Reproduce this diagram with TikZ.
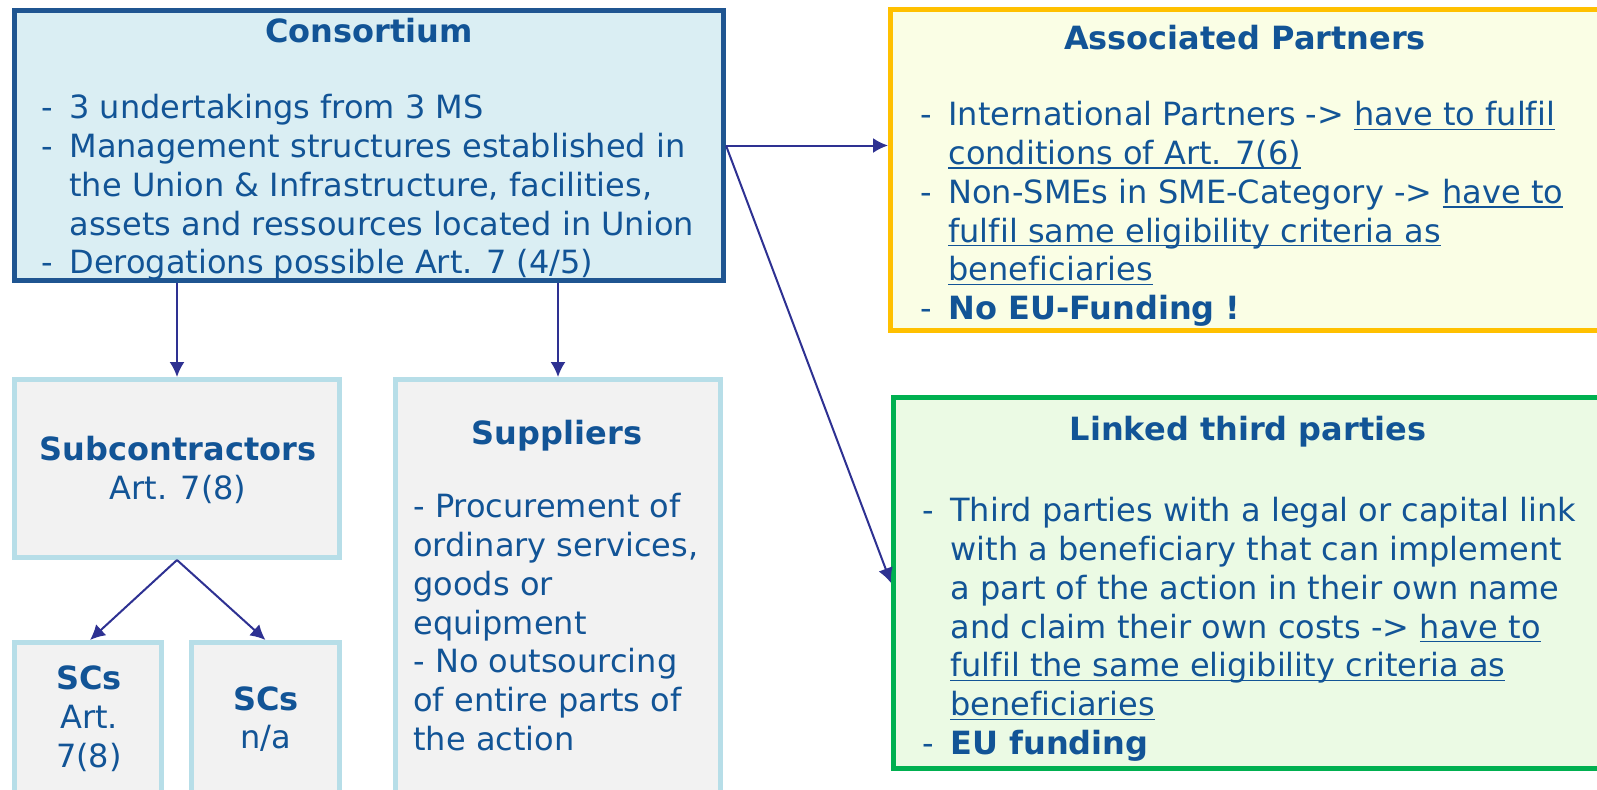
\documentclass[tikz,border=0pt]{standalone}
\usepackage{fontspec}
\setmainfont{DejaVu Sans}[Ligatures=NoCommon]
\usetikzlibrary{arrows.meta,fit}

\definecolor{txtblue}{RGB}{18,84,150}
\definecolor{consline}{RGB}{31,85,145}
\definecolor{consfill}{RGB}{218,238,243}
\definecolor{apline}{RGB}{255,192,0}
\definecolor{apfill}{RGB}{250,254,229}
\definecolor{ltpline}{RGB}{0,176,80}
\definecolor{ltpfill}{RGB}{235,250,228}
\definecolor{subline}{RGB}{183,222,232}
\definecolor{subfill}{RGB}{242,242,242}
\definecolor{arrcol}{RGB}{46,49,146}

\newcommand{\dashitem}{\makebox[14pt][l]{-}}
\newcommand{\dashcont}{\hspace*{14pt}}
\newsavebox{\undlbox}
\newcommand{\undl}[1]{\leavevmode\sbox{\undlbox}{#1}%
  \rlap{\rule[-2.1pt]{\wd\undlbox}{0.7pt}}\usebox{\undlbox}}

\tikzset{
  box/.style={draw, line width=2.5pt, inner sep=0pt},
  consbox/.style={box, draw=consline, fill=consfill},
  apbox/.style={box, draw=apline, fill=apfill},
  ltpbox/.style={box, draw=ltpline, fill=ltpfill},
  subbox/.style={box, draw=subline, fill=subfill},
  head/.style={font=\bfseries, text=txtblue, inner sep=0pt},
  body/.style={align=left, anchor=north west, inner sep=0pt, text=txtblue},
  mid/.style={align=center, inner sep=0pt, text=txtblue},
  arr/.style={draw=arrcol, line width=1pt, -{Latex[length=7.5pt,width=7.5pt]}},
}

\begin{document}
\fontsize{16}{19.4}\selectfont
\begin{tikzpicture}[x=0.5pt, y=-0.5pt]
  \clip (0,0) rectangle (1597,789);
  \fill[white] (0,0) rectangle (1597,789);

  % boxes
  \node[consbox, fit={(14.5,10.5) (723.5,280.5)}] (cons) {};
  \node[apbox, fit={(890.5,9.5) (1620,330.5)}] (ap) {};
  \node[ltpbox, fit={(893.5,397.5) (1620,768.5)}] (ltp) {};
  \node[subbox, fit={(14.5,379.5) (339.5,557.5)}] (sub) {};
  \node[subbox, fit={(395.5,379.5) (720.5,810)}] (sup) {};
  \node[subbox, fit={(14.5,642.5) (161.5,810)}] (scA) {};
  \node[subbox, fit={(191.5,642.5) (339.5,810)}] (scB) {};

  % consortium
  \node[head] (consT) at (369,31) {Consortium};
  \node[body] (consB) at (41,94) {\dashitem 3 undertakings from 3 MS\\
    \dashitem Management structures established in\\
    \dashcont the Union \& Infrastructure, facilities,\\
    \dashcont assets and ressources located in Union\\
    \dashitem Derogations possible Art. 7 (4/5)};

  % associated partners
  \node[head] (apT) at (1245,38) {Associated Partners};
  \node[body] (apB) at (920,101) {\dashitem International Partners -> \undl{have to fulfil}\\
    \dashcont \undl{conditions of Art. 7(6)}\\
    \dashitem Non-SMEs in SME-Category -> \undl{have to}\\
    \dashcont \undl{fulfil same eligibility criteria as}\\
    \dashcont \undl{beneficiaries}\\
    \dashitem \textbf{No EU-Funding !}};

  % linked third parties
  \node[head] (ltpT) at (1248,432) {Linked third parties};
  \node[body] (ltpB) at (922,497) {\dashitem Third parties with a legal or capital link\\
    \dashcont with a beneficiary that can implement\\
    \dashcont a part of the action in their own name\\
    \dashcont and claim their own costs -> \undl{have to}\\
    \dashcont \undl{fulfil the same eligibility criteria as}\\
    \dashcont \undl{beneficiaries}\\
    \dashitem \textbf{EU funding}};

  % subcontractors and suppliers
  \node[mid] (subT) at (178,470) {\textbf{Subcontractors}\\Art. 7(8)};
  \node[head] (supT) at (557,436) {Suppliers};
  \node[body] (supB) at (413,493) {- Procurement of\\
    ordinary services,\\
    goods or\\
    equipment\\
    - No outsourcing\\
    of entire parts of\\
    the action};
  \node[mid] (scAT) at (89,719) {\textbf{SCs}\\Art.\\7(8)};
  \node[mid] (scBT) at (266,719) {\textbf{SCs}\\n/a};

  % connectors
  \draw[arr] (cons.south -| sub.north) -- (sub.north);
  \draw[arr] (cons.south -| sup.north) -- (sup.north);
  \draw[arr] (cons.east) -- (cons.east -| ap.west);
  \draw[arr] (cons.east) -- (ltp.west);
  \draw[arr] (sub.south) -- ([xshift=1pt]scA.north);
  \draw[arr] (sub.south) -- (scB.north);
\end{tikzpicture}
\end{document}
